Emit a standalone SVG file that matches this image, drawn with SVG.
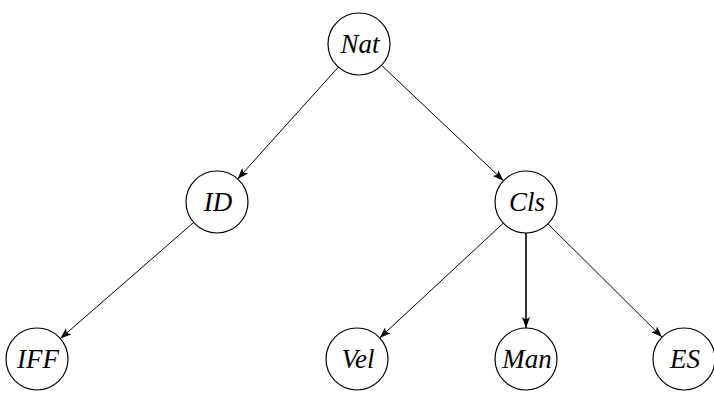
<svg xmlns="http://www.w3.org/2000/svg" width="714" height="396" viewBox="0 0 714 396">
<style>
.n circle{fill:#fff;stroke:#000;stroke-width:1.2}
.n text{font-family:'Liberation Serif','DejaVu Serif',serif;font-style:italic;font-size:27px;text-anchor:middle;fill:#000}
.e line{stroke:#000;stroke-width:1}
</style>
<defs>
<marker id="ah" markerUnits="userSpaceOnUse" markerWidth="12" markerHeight="10" refX="11" refY="4" orient="auto" viewBox="0 0 12 8">
<path d="M0,0 L11,4 L0,8 L2.5,4 Z" fill="#000"/>
</marker>
</defs>
<g id="edges" class="e">
<line x1="338.3" y1="67.1" x2="237.7" y2="178.9" marker-end="url(#ah)"/>
<line x1="381.5" y1="65.3" x2="503.5" y2="180.7" marker-end="url(#ah)"/>
<line x1="193.7" y1="222.4" x2="60.3" y2="338.6" marker-end="url(#ah)"/>
<line x1="503.3" y1="223.1" x2="379.7" y2="337.9" marker-end="url(#ah)"/>
<line x1="526" y1="233" x2="526" y2="328" marker-end="url(#ah)" style="stroke-width:1.6"/>
<line x1="548" y1="223.9" x2="662" y2="337.1" marker-end="url(#ah)"/>
</g>
<g id="Nat" class="n"><circle cx="359" cy="44" r="31"/><text x="360" y="52.5">Nat</text></g>
<g id="ID" class="n"><circle cx="217" cy="202" r="31"/><text x="218" y="210.5">ID</text></g>
<g id="Cls" class="n"><circle cx="526" cy="202" r="31"/><text x="527" y="210.5">Cls</text></g>
<g id="IFF" class="n"><circle cx="37" cy="359" r="31"/><text x="38" y="367.5">IFF</text></g>
<g id="Vel" class="n"><circle cx="357" cy="359" r="31"/><text x="358" y="367.5">Vel</text></g>
<g id="Man" class="n"><circle cx="526" cy="359" r="31"/><text x="527" y="367.5">Man</text></g>
<g id="ES" class="n"><circle cx="684" cy="359" r="31"/><text x="685" y="367.5">ES</text></g>
</svg>
